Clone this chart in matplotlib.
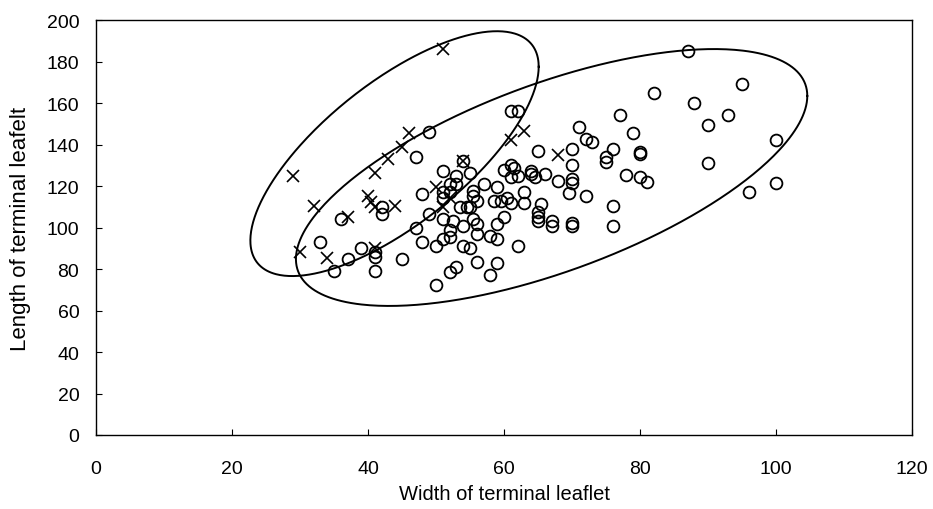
import numpy as np
import matplotlib.pyplot as plt

plt.rcParams['font.family'] = ['Liberation Sans', 'DejaVu Sans']

# circles (group 1)
circ_x = [33, 39, 37, 35, 41, 41, 41, 45, 48, 50, 51, 52, 52, 54, 55, 53, 52, 50, 56, 58, 59,
          36, 42, 42, 47, 49, 48, 49, 47, 51, 52, 51, 51, 53, 55, 54, 52, 53,
          61, 61.5, 60, 61, 62, 64, 64, 64.5, 66, 65, 61, 62, 70, 70, 68, 70, 70, 69.5, 72,
          71, 72, 73, 77, 79, 76, 80, 80, 75, 75, 78, 80, 81, 76, 70, 70, 76,
          82, 87, 88, 95, 93, 90, 100, 90, 100, 96,
          57, 59, 63, 58.5, 59.5, 60.5, 61, 63, 65.5, 55.5, 55.5, 56, 53.5, 54.5, 55,
          60, 59, 65, 65, 65, 67, 67, 62, 52.5, 51, 55.5, 56, 54, 56, 58, 59]
circ_y = [93, 90, 85, 79, 88, 86, 79, 85, 93, 91, 94.5, 95.5, 99, 91, 90, 81, 78.5, 72.5, 83.5, 77, 83,
          104, 110, 106.5, 134, 146, 116, 106.5, 100, 117, 117, 114, 127, 125, 126.5, 132, 121, 121,
          130, 128.5, 127.5, 124.5, 125, 127, 126, 124.5, 126, 137, 156, 156, 138, 130, 122.5, 123.5, 121.5, 116.5, 115,
          148.5, 142.5, 141, 154, 145.5, 138, 136.5, 135.5, 134, 131.5, 125.5, 124.5, 122, 110.5, 102, 100.5, 100.5,
          165, 185, 160, 169, 154, 149.5, 142, 131, 121.5, 117,
          121, 119.5, 117, 113, 113, 114, 112, 112, 111.5, 117.5, 115, 113, 110, 110, 110,
          105, 101.5, 107.5, 105, 103, 103, 100.5, 91, 103, 104, 104, 101.5, 100.5, 97, 96, 94.5]

# crosses (group 2)
cross_x = [51, 29, 46, 45, 43, 41, 32, 40, 40.5, 41, 44, 37, 30, 34, 41, 50, 52, 54, 61, 63, 68, 51]
cross_y = [186, 125, 145.5, 139, 133, 126.5, 110.5, 115, 112.5, 110, 110.5, 105, 88, 85.5, 90, 119.5,
           114, 132, 142, 146.5, 135, 110]

# ellipses: centre, half range in x and y, correlation
ell_cx = [43.9, 67.0]
ell_cy = [135.6, 124.1]
ell_hx = [21.2, 37.6]
ell_hy = [59.0, 61.9]
ell_rho = [0.71, 0.635]

fig = plt.figure(figsize=(9.33, 5.10), dpi=100)
ax = fig.add_axes([0.1029, 0.1451, 0.8746, 0.8137])

ax.plot(circ_x, circ_y, 'o', ms=8.5, mfc='none', mec='black', mew=1.3, ls='none')
ax.plot(cross_x, cross_y, 'x', ms=8.5, color='black', mew=1.2, ls='none')

t = np.linspace(0, 2 * np.pi, 400)
for cx, cy, hx, hy, rho in zip(ell_cx, ell_cy, ell_hx, ell_hy, ell_rho):
    phi = np.arccos(rho)
    ax.plot(cx + hx * np.cos(t), cy + hy * np.cos(t - phi), color='black', lw=1.4)

ax.set_xlim(0, 120)
ax.set_ylim(0, 200)
ax.set_xticks(np.arange(0, 121, 20))
ax.set_yticks(np.arange(0, 201, 20))
ax.tick_params(direction='in', length=4, width=0.8, labelsize=14)
ax.tick_params(axis='x', pad=18)
ax.tick_params(axis='y', pad=12)
for s in ax.spines.values():
    s.set_linewidth(1.0)

ax.set_xlabel('Width of terminal leaflet', fontsize=14.5, labelpad=5)
ax.set_ylabel('Length of terminal leafelt', fontsize=16, labelpad=11)

fig.savefig('out.png', dpi=100)
